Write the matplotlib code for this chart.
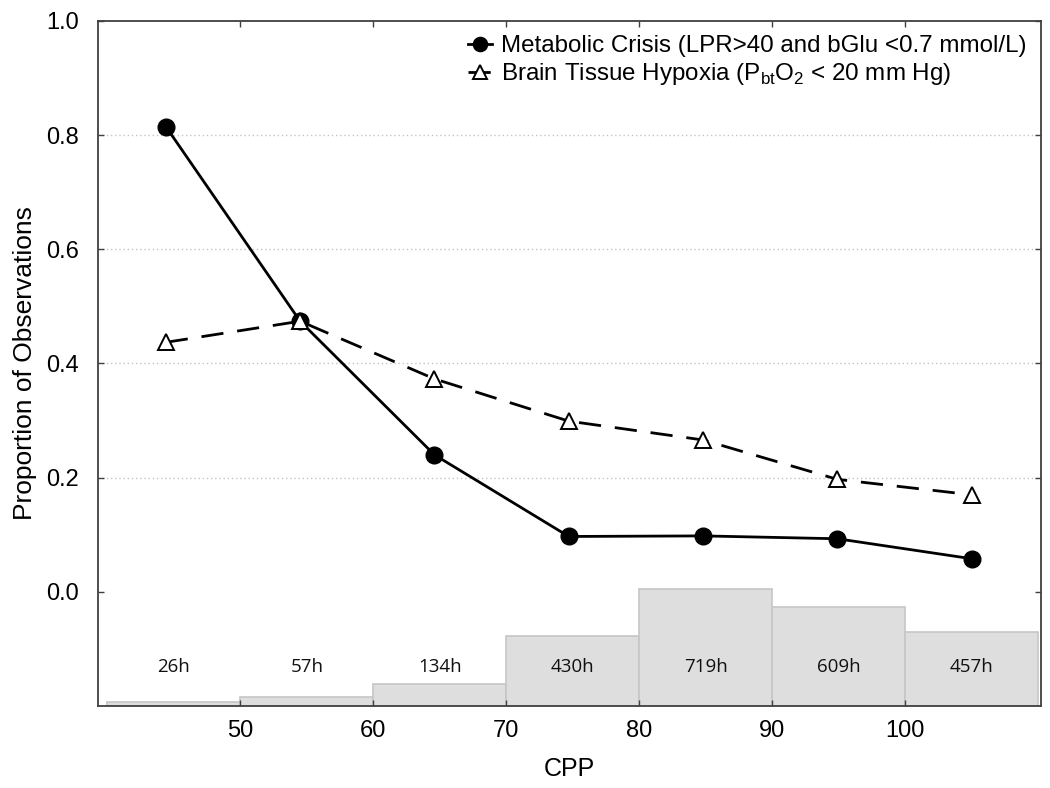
"""Proportion of observations with metabolic crisis / tissue hypoxia by CPP."""

import matplotlib

matplotlib.use("Agg")

import matplotlib.pyplot as plt
from matplotlib.ticker import FormatStrFormatter

plt.rcParams["font.family"] = ["Liberation Sans", "DejaVu Sans"]

# CPP bins (10 mmHg wide) and hours of monitoring in each bin
bin_left = [40, 50, 60, 70, 80, 90, 100]
bin_hours = [26, 57, 134, 430, 719, 609, 457]
hour_labels = ["26h", "57h", "134h", "430h", "719h", "609h", "457h"]

# points
cpp_points = [44.4, 54.5, 64.6, 74.7, 84.8, 94.9, 105.0]
metabolic_crisis = [0.815, 0.474, 0.240, 0.097, 0.098, 0.093, 0.058]
tissue_hypoxia = [0.437, 0.474, 0.373, 0.299, 0.266, 0.197, 0.170]

Y_MIN, Y_MAX = -0.2, 1.0
HOURS_SCALE = 0.205 / 719  # histogram drawn along the bottom of the axes

fig = plt.figure(figsize=(10.5, 7.88), dpi=100)
ax = fig.add_axes([0.0933, 0.104, 0.898, 0.8695])

# histogram of hours
ax.bar(
    bin_left,
    [h * HOURS_SCALE for h in bin_hours],
    width=10,
    bottom=Y_MIN,
    align="edge",
    color="#dedede",
    edgecolor="#c6c6c6",
    linewidth=1.2,
    zorder=1,
)
for left, label in zip(bin_left, hour_labels):
    ax.text(
        left + 5,
        -0.131,
        label,
        ha="center",
        va="center",
        fontsize=13.5,
        family=["Open Sans", "DejaVu Sans"],
        color="#111111",
        zorder=3,
    )

# dotted grid lines at the inner y ticks
for y in [0.2, 0.4, 0.6, 0.8]:
    ax.axhline(y, color="#c4c4c4", linestyle=(0, (1, 2)), linewidth=1.0, zorder=0)

ax.plot(
    cpp_points,
    metabolic_crisis,
    color="black",
    linewidth=2.0,
    marker="o",
    markersize=12,
    markerfacecolor="black",
    markeredgecolor="black",
    label="Metabolic Crisis (LPR>40 and bGlu <0.7 mmol/L)",
    zorder=4,
)
ax.plot(
    cpp_points,
    tissue_hypoxia,
    color="black",
    linewidth=2.0,
    linestyle=(0, (8, 5)),
    marker="^",
    markersize=11.5,
    markerfacecolor="white",
    markeredgecolor="black",
    markeredgewidth=1.4,
    label=r"Brain Tissue Hypoxia (P$_\mathregular{bt}$O$_\mathregular{2}$ < 20 mm Hg)",
    zorder=5,
)

ax.set_xlim(39.3, 110.2)
ax.set_ylim(Y_MIN, Y_MAX)
ax.set_xticks([50, 60, 70, 80, 90, 100])
ax.set_yticks([0.0, 0.2, 0.4, 0.6, 0.8, 1.0])
ax.yaxis.set_major_formatter(FormatStrFormatter("%.1f"))
ax.tick_params(
    direction="in",
    length=4,
    width=1.0,
    color="#404040",
    top=True,
    right=True,
    labelsize=17,
)
ax.tick_params(axis="y", pad=14)
ax.tick_params(axis="x", pad=10)
for spine in ax.spines.values():
    spine.set_color("#404040")
    spine.set_linewidth(1.3)

ax.set_xlabel("CPP", fontsize=18, labelpad=11)
ax.set_ylabel("Proportion of Observations", fontsize=19, labelpad=6)

leg = ax.legend(
    loc="upper right",
    frameon=False,
    fontsize=17.4,
    handlelength=1.0,
    handletextpad=0.35,
    labelspacing=0.15,
    borderaxespad=0.2,
    markerscale=0.85,
)

fig.savefig("out.png", dpi=100)
plt.close(fig)
